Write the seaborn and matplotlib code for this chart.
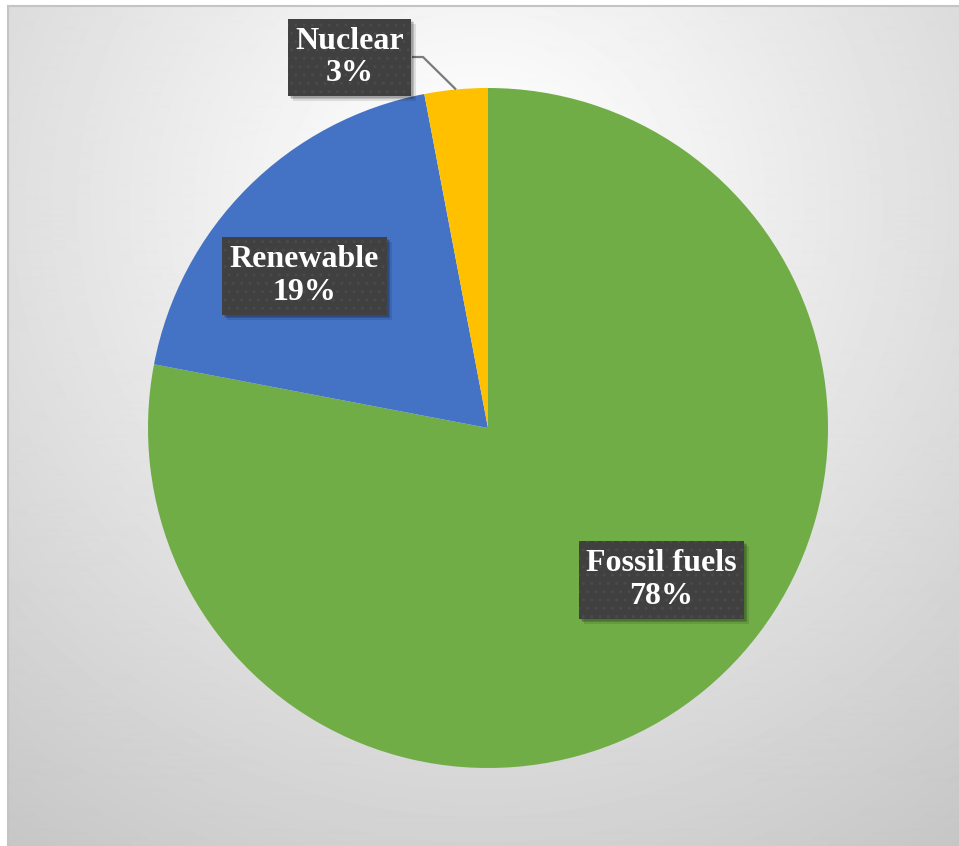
import numpy as np
import matplotlib
matplotlib.use("Agg")
import matplotlib.pyplot as plt
from matplotlib.patches import Rectangle
import seaborn as sns

# Energy mix shares (percent)
sources = ["Fossil fuels", "Renewable", "Nuclear"]
shares = [78, 19, 3]
colors = ["#70AD47", "#4472C4", "#FFC000"]

sns.set_theme(style="white")
plt.rcParams["font.family"] = ["Liberation Serif", "DejaVu Serif"]
plt.rcParams["hatch.linewidth"] = 1.0

W, H = 959, 846
fig = plt.figure(figsize=(W / 100, H / 100), dpi=100)
fig.patch.set_facecolor("white")

# Chart area background: soft radial gradient, light near the top, grey toward the corners
bg = fig.add_axes([8 / W, 0, (W - 8) / W, (H - 6) / H])
bw, bh = W - 8, H - 6
yy, xx = np.mgrid[0:bh, 0:bw]
d = np.sqrt((xx - 472) ** 2 + (yy - 200) ** 2)
val = np.clip(259 - 0.0767 * d, 0, 255) / 255.0
bg.imshow(val, cmap="gray", vmin=0, vmax=1, aspect="auto", interpolation="bilinear")
bg.set_xticks([])
bg.set_yticks([])
for side in ["right", "bottom"]:
    bg.spines[side].set_visible(False)
for side in ["top", "left"]:
    bg.spines[side].set_color("#c4c4c4")
    bg.spines[side].set_linewidth(1.5)

# Pie axes: centre (488, 428) px, radius 340 px
cx, cy, r = 488, 428, 340
ax = fig.add_axes([(cx - r) / W, (H - cy - r) / H, 2 * r / W, 2 * r / H])
ax.set_facecolor("none")
wedges, _ = ax.pie(shares, colors=colors, startangle=90, counterclock=False,
                   radius=1.0, wedgeprops=dict(linewidth=0))
ax.set_xlim(-1, 1)
ax.set_ylim(-1, 1)
ax.set_aspect("equal")
ax.axis("off")


def px(x, y):
    return (x - cx) / r, (cy - y) / r


label_pos = {
    "Fossil fuels": px(661.5, 580),
    "Renewable": px(304.5, 276),
    "Nuclear": px(349.5, 57.5),
}

labels = []
for name, val_ in zip(sources, shares):
    x, y = label_pos[name]
    t = ax.text(x, y, f"{name}\n{val_}%", ha="center", va="center",
                color="white", fontsize=23, fontweight="bold", linespacing=1.18,
                clip_on=False, zorder=6,
                bbox=dict(boxstyle="square,pad=0.24", facecolor="#404040",
                          edgecolor="#4a4a4a", linewidth=0, hatch=".."))
    labels.append(t)

# Soft drop shadow under each label box, sized from the rendered box
fig.canvas.draw()
inv = fig.transFigure.inverted()
for t in labels:
    ext = t.get_bbox_patch().get_window_extent()
    for off, a in [(5, 0.10), (3, 0.16), (2, 0.12)]:
        (fx0, fy0), (fx1, fy1) = inv.transform([(ext.x0 + off, ext.y0 - off),
                                                (ext.x1 + off, ext.y1 - off)])
        ax.add_patch(Rectangle((fx0, fy0), fx1 - fx0, fy1 - fy0,
                               transform=fig.transFigure, facecolor="black",
                               alpha=a, linewidth=0, zorder=4, clip_on=False))

# Leader line from the Nuclear label to the middle of its wedge
w = wedges[2]
mid = np.deg2rad((w.theta1 + w.theta2) / 2)
tip = (np.cos(mid), np.sin(mid))
x0, y0 = px(412, 57)
x1, y1 = px(423, 57)
ax.plot([x0, x1, tip[0]], [y0, y1, tip[1]], color="#7a7a7a", linewidth=1.6,
        clip_on=False, zorder=3, solid_capstyle="butt")

fig.savefig("out.png", dpi=100)
